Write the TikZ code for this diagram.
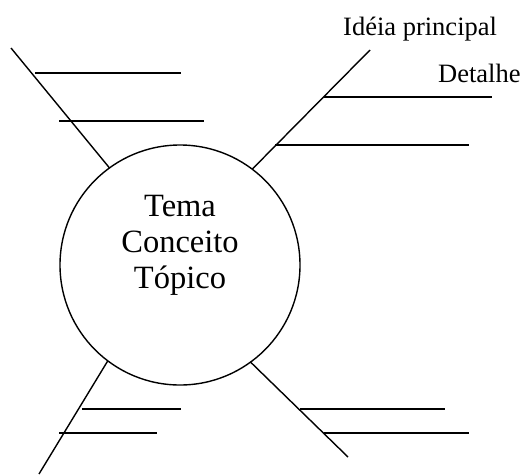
\documentclass[tikz,border=0pt]{standalone}
\usepackage{fontspec}
\setmainfont{Liberation Serif}
\begin{document}
\begin{tikzpicture}[x=1pt,y=-1pt,
  branch/.style={line width=1.4pt},
  detail/.style={line width=1.8pt},
  hub/.style={circle,draw,line width=1.4pt,minimum size=240pt,inner sep=0pt,outer sep=0pt},
  label/.style={anchor=base west,inner sep=0pt,font=\fontsize{26.5}{30}\selectfont}]
\useasboundingbox (0,0) rectangle (524,475);

% central topic circle
\node[hub] (c) at (180,265) {};
\node[align=center,inner sep=0pt,anchor=base,
      font=\fontsize{32.5}{36}\selectfont] (t) at (180,288)
  {Tema\\Conceito\\Tópico};

% labels of the upper right branch
\node[label] (main) at (343,35) {Idéia principal};
\node[label] (det) at (438,82) {Detalhe};

% free ends of the four branches
\coordinate (tl) at (11,48);
\coordinate (tr) at (370,50);
\coordinate (bl) at (39,474);
\coordinate (br) at (348,457);

\draw[branch] (c.126.6) -- (tl);
\draw[branch] (c.53.7) -- (tr);
\draw[branch] (c.233.1) -- (bl);
\draw[branch] (c.306.9) -- (br);

% detail lines, upper left
\coordinate (a1) at (35,73);   \coordinate (a2) at (181,73);
\coordinate (b1) at (59,121);  \coordinate (b2) at (204,121);
\draw[detail] (a1) -- (a2);
\draw[detail] (b1) -- (b2);

% detail lines, upper right
\coordinate (c1) at (324,97);  \coordinate (c2) at (492,97);
\coordinate (d1) at (275,145); \coordinate (d2) at (469,145);
\draw[detail] (c1) -- (c2);
\draw[detail] (d1) -- (d2);

% detail lines, lower left
\coordinate (e1) at (82,409);  \coordinate (e2) at (181,409);
\coordinate (f1) at (59,433);  \coordinate (f2) at (157,433);
\draw[detail] (e1) -- (e2);
\draw[detail] (f1) -- (f2);

% detail lines, lower right
\coordinate (g1) at (300,409); \coordinate (g2) at (445,409);
\coordinate (h1) at (324,433); \coordinate (h2) at (469,433);
\draw[detail] (g1) -- (g2);
\draw[detail] (h1) -- (h2);
\end{tikzpicture}
\end{document}
